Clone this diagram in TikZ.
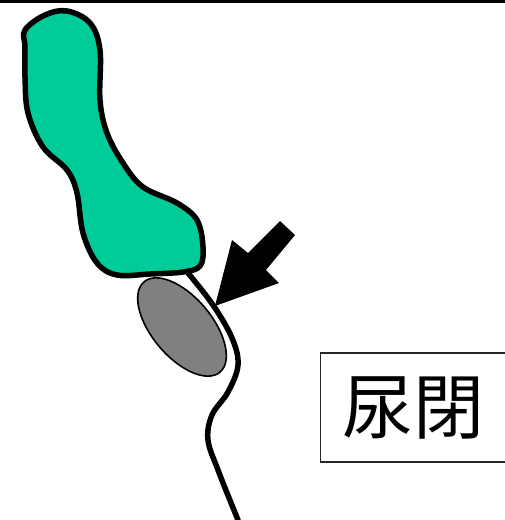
\documentclass[tikz,border=0pt]{standalone}
\usepackage{fontspec}
\newfontfamily\cjk{Noto Sans CJK JP}
\begin{document}
\begin{tikzpicture}[x=1pt,y=-1pt]
  % Parameters
  \def\organline{5.5}
  \definecolor{bladdergreen}{RGB}{0,204,153}
  \definecolor{prostategray}{RGB}{128,128,128}

  % Styles
  \tikzset{
    bladder/.style={fill=bladdergreen, draw=black, line width=\organline, line join=round},
    prostate/.style={fill=prostategray, draw=black, line width=1.6},
    urethra/.style={draw=black, line width=\organline, line cap=round},
    labelbox/.style={draw=black!85, line width=1.5, minimum width=186, minimum height=109,
      inner sep=0pt, font=\cjk\fontsize{71}{71}\selectfont}
  }

  \useasboundingbox (0,0) rectangle (505,520);

  % Rule along the top
  \draw[line width=3] (0,1.5) -- (505,1.5);

  % Prostate
  \draw[prostate, rotate around={-50:(182,327)}]
    (182,327) ellipse [x radius=59pt, y radius=30pt];

  % Urethra, with a white edge next to the prostate
  \draw[white, line width=8.5]
    plot[smooth, tension=0.6] coordinates {(190,276) (213,305) (232,338) (238,365)};
  \draw[urethra]
    plot[smooth, tension=0.6] coordinates {(188,273) (213,305) (232,338) (238,365)
      (228,392) (212,415) (208,440) (218,470) (238,520)};

  % Bladder
  \draw[bladder]
    plot[smooth cycle, tension=0.6] coordinates {(25,30) (45,15) (67,11) (90,23) (100,50)
      (100,100) (107,133) (123,163) (143,187) (177,203) (197,220) (203,247) (200,266)
      (183,272) (150,274) (117,275) (97,263) (83,233) (77,193) (67,170) (43,147)
      (28,113) (25,77) (25,47)};

  % Arrow pointing at the outlet
  \fill[black] (215,306) -- (232,240) -- (248,253) -- (280,221) -- (295,235)
    -- (266,270) -- (279,283) -- cycle;

  % Label
  \node[labelbox] (retention) at (413.5,407.5) {尿閉};
\end{tikzpicture}
\end{document}
